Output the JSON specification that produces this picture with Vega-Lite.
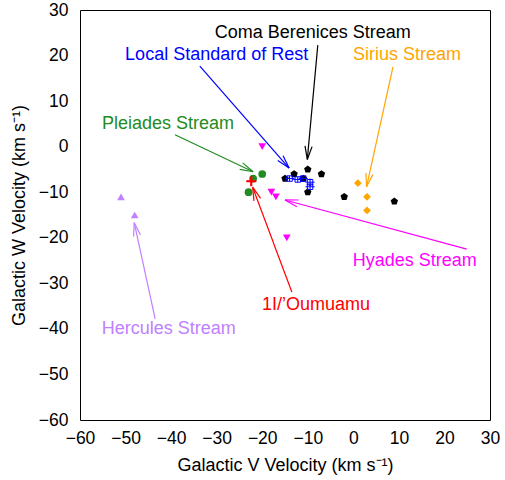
{
  "$schema": "https://vega.github.io/schema/vega-lite/v6.json",
  "width": 410,
  "height": 410,
  "autosize": "none",
  "padding": {"left": 80, "top": 10, "right": 15, "bottom": 60},
  "background": "white",
  "config": {
    "font": "Liberation Sans",
    "view": {"stroke": "black", "strokeWidth": 1},
    "axis": {"grid": false, "ticks": false, "domain": false, "labelFlush": false, "labelOverlap": false, "labelFont": "Liberation Sans", "labelFontSize": 17.5, "labelColor": "black", "titleFont": "Liberation Sans", "titleFontSize": 18, "titleFontWeight": "normal", "titleColor": "black"}
  },
  "datasets": {
    "pts": [
      {"v": -15, "w": -7, "group": "Coma Berenices Stream"},
      {"v": -13, "w": -6, "group": "Coma Berenices Stream"},
      {"v": -11, "w": -7, "group": "Coma Berenices Stream"},
      {"v": -10, "w": -5, "group": "Coma Berenices Stream"},
      {"v": -7, "w": -6, "group": "Coma Berenices Stream"},
      {"v": -10, "w": -10, "group": "Coma Berenices Stream"},
      {"v": -2, "w": -11, "group": "Coma Berenices Stream"},
      {"v": 9, "w": -12, "group": "Coma Berenices Stream"},
      {"v": 1, "w": -8, "group": "Sirius Stream"},
      {"v": 3, "w": -11, "group": "Sirius Stream"},
      {"v": 3, "w": -14, "group": "Sirius Stream"},
      {"v": -22, "w": -7, "group": "Pleiades Stream"},
      {"v": -20, "w": -6, "group": "Pleiades Stream"},
      {"v": -23, "w": -10, "group": "Pleiades Stream"},
      {"v": -20, "w": 0, "group": "Hyades Stream"},
      {"v": -18, "w": -10, "group": "Hyades Stream"},
      {"v": -17, "w": -11, "group": "Hyades Stream"},
      {"v": -14.6, "w": -20, "group": "Hyades Stream"},
      {"v": -51, "w": -11, "group": "Hercules Stream"},
      {"v": -48, "w": -15, "group": "Hercules Stream"}
    ],
    "lsr": [
      {"v": -14, "w": -7, "vlo": -15, "vhi": -13, "wlo": -7.6, "whi": -6.4},
      {"v": -12.2, "w": -7.2, "vlo": -13.2, "vhi": -11.2, "wlo": -7.8, "whi": -6.6},
      {"v": -11, "w": -7, "vlo": -12, "vhi": -10, "wlo": -7.5, "whi": -6.5},
      {"v": -9.5, "w": -7.8, "vlo": -10.5, "vhi": -8.5, "wlo": -8.6, "whi": -7},
      {"v": -9.5, "w": -8.8, "vlo": -10.5, "vhi": -8.5, "wlo": -9.5, "whi": -8.1}
    ],
    "oum": [
      {"v": -22.4, "w": -7.6, "vlo": -23.4, "vhi": -21.4, "wlo": -8.6, "whi": -6.6}
    ],
    "labels": [
      {"v": -8.9, "w": 25, "text": "Coma Berenices Stream", "group": "Coma Berenices Stream"},
      {"v": -30, "w": 20.1, "text": "Local Standard of Rest", "group": "Local Standard of Rest"},
      {"v": 11.8, "w": 20.1, "text": "Sirius Stream", "group": "Sirius Stream"},
      {"v": -40.7, "w": 5, "text": "Pleiades Stream", "group": "Pleiades Stream"},
      {"v": 13.5, "w": -25.1, "text": "Hyades Stream", "group": "Hyades Stream"},
      {"v": -8.2, "w": -34.75, "text": "1I/’Oumuamu", "group": "1I/’Oumuamu"},
      {"v": -40.5, "w": -40, "text": "Hercules Stream", "group": "Hercules Stream"}
    ],
    "arrows": [
      {"group": "Coma Berenices Stream", "v": -7.8, "w": 22.3, "v2": -10.1, "w2": -2.8},
      {"group": "Coma Berenices Stream", "v": -10.1, "w": -2.8, "v2": -10.61, "w2": 0.16},
      {"group": "Coma Berenices Stream", "v": -10.1, "w": -2.8, "v2": -9.06, "w2": 0.01},
      {"group": "Local Standard of Rest", "v": -33.7, "w": 17.7, "v2": -14.1, "w2": -4.7},
      {"group": "Local Standard of Rest", "v": -14.1, "w": -4.7, "v2": -16.59, "w2": -3.03},
      {"group": "Local Standard of Rest", "v": -14.1, "w": -4.7, "v2": -15.42, "w2": -2.01},
      {"group": "Sirius Stream", "v": 8.7, "w": 17.5, "v2": 2.9, "w2": -8.8},
      {"group": "Sirius Stream", "v": 2.9, "w": -8.8, "v2": 2.77, "w2": -5.8},
      {"group": "Sirius Stream", "v": 2.9, "w": -8.8, "v2": 4.28, "w2": -6.14},
      {"group": "Pleiades Stream", "v": -39.15, "w": 2.6, "v2": -22.0, "w2": -5.5},
      {"group": "Pleiades Stream", "v": -22.0, "w": -5.5, "v2": -24.95, "w2": -4.97},
      {"group": "Pleiades Stream", "v": -22.0, "w": -5.5, "v2": -24.29, "w2": -3.56},
      {"group": "Hyades Stream", "v": 24.9, "w": -22.5, "v2": -15, "w2": -11.7},
      {"group": "Hyades Stream", "v": -15, "w": -11.7, "v2": -12.0, "w2": -11.71},
      {"group": "Hyades Stream", "v": -15, "w": -11.7, "v2": -12.4, "w2": -13.21},
      {"group": "1I/’Oumuamu", "v": -13.5, "w": -31.9, "v2": -22.1, "w2": -8.9},
      {"group": "1I/’Oumuamu", "v": -22.1, "w": -8.9, "v2": -20.36, "w2": -11.34},
      {"group": "1I/’Oumuamu", "v": -22.1, "w": -8.9, "v2": -21.81, "w2": -11.89},
      {"group": "Hercules Stream", "v": -43.5, "w": -37.8, "v2": -48.1, "w2": -16.7},
      {"group": "Hercules Stream", "v": -48.1, "w": -16.7, "v2": -46.72, "w2": -19.37},
      {"group": "Hercules Stream", "v": -48.1, "w": -16.7, "v2": -48.24, "w2": -19.7}
    ]
  },
  "encoding": {
    "x": {"field": "v", "type": "quantitative", "scale": {"domain": [-60, 30], "nice": false, "zero": false},
      "axis": {"values": [-60, -50, -40, -30, -20, -10, 0, 10, 20, 30], "title": "Galactic V Velocity (km s⁻¹)", "labelPadding": 9, "titlePadding": 10}},
    "y": {"field": "w", "type": "quantitative", "scale": {"domain": [-60, 30], "nice": false, "zero": false},
      "axis": {"values": [-60, -50, -40, -30, -20, -10, 0, 10, 20, 30], "title": "Galactic W Velocity (km s⁻¹)", "labelPadding": 12, "titlePadding": 10}}
  },
  "layer": [
    {
      "data": {"name": "arrows"},
      "mark": {"type": "rule", "strokeWidth": 1.2},
      "encoding": {
        "x2": {"field": "v2"},
        "y2": {"field": "w2"},
        "color": {"field": "group", "type": "nominal", "legend": null,
          "scale": {"domain": ["Coma Berenices Stream", "Local Standard of Rest", "Sirius Stream", "Pleiades Stream", "Hyades Stream", "1I/’Oumuamu", "Hercules Stream"],
                    "range": ["#000000", "#0000ff", "#ffa500", "#228b22", "#ff00ff", "#ff0000", "#c080ff"]}}
      }
    },
    {
      "data": {"name": "pts"},
      "mark": {"type": "point", "filled": true, "opacity": 1},
      "encoding": {
        "color": {"field": "group", "type": "nominal", "legend": null},
        "shape": {"field": "group", "type": "nominal", "legend": null,
          "scale": {"domain": ["Coma Berenices Stream", "Sirius Stream", "Pleiades Stream", "Hyades Stream", "Hercules Stream"],
                    "range": ["M0,-1L0.951,-0.309L0.588,0.809L-0.588,0.809L-0.951,-0.309Z", "diamond", "circle", "triangle-down", "triangle-up"]}},
        "size": {"value": 60}
      }
    },
    {
      "data": {"name": "lsr"},
      "mark": {"type": "rule", "color": "#0000ff", "strokeWidth": 1},
      "encoding": {"x": {"field": "vlo", "type": "quantitative"}, "x2": {"field": "vhi"}}
    },
    {
      "data": {"name": "lsr"},
      "mark": {"type": "rule", "color": "#0000ff", "strokeWidth": 1},
      "encoding": {"y": {"field": "wlo", "type": "quantitative"}, "y2": {"field": "whi"}}
    },
    {
      "data": {"name": "lsr"},
      "mark": {"type": "point", "shape": "square", "filled": false, "color": "#0000ff", "strokeWidth": 1, "size": 30, "opacity": 1}
    },
    {
      "data": {"name": "oum"},
      "mark": {"type": "rule", "color": "#ff0000", "strokeWidth": 1.5},
      "encoding": {"x": {"field": "vlo", "type": "quantitative"}, "x2": {"field": "vhi"}}
    },
    {
      "data": {"name": "oum"},
      "mark": {"type": "rule", "color": "#ff0000", "strokeWidth": 1.5},
      "encoding": {"y": {"field": "wlo", "type": "quantitative"}, "y2": {"field": "whi"}}
    },
    {
      "data": {"name": "oum"},
      "mark": {"type": "point", "shape": "M-1,0L1,0M0,-1L0,1", "filled": false, "color": "#ff0000", "strokeWidth": 2, "size": 100, "opacity": 1}
    },
    {
      "data": {"name": "labels"},
      "mark": {"type": "text", "font": "Liberation Sans", "fontSize": 18, "align": "center", "baseline": "middle"},
      "encoding": {
        "text": {"field": "text"},
        "color": {"field": "group", "type": "nominal", "legend": null}
      }
    }
  ]
}
